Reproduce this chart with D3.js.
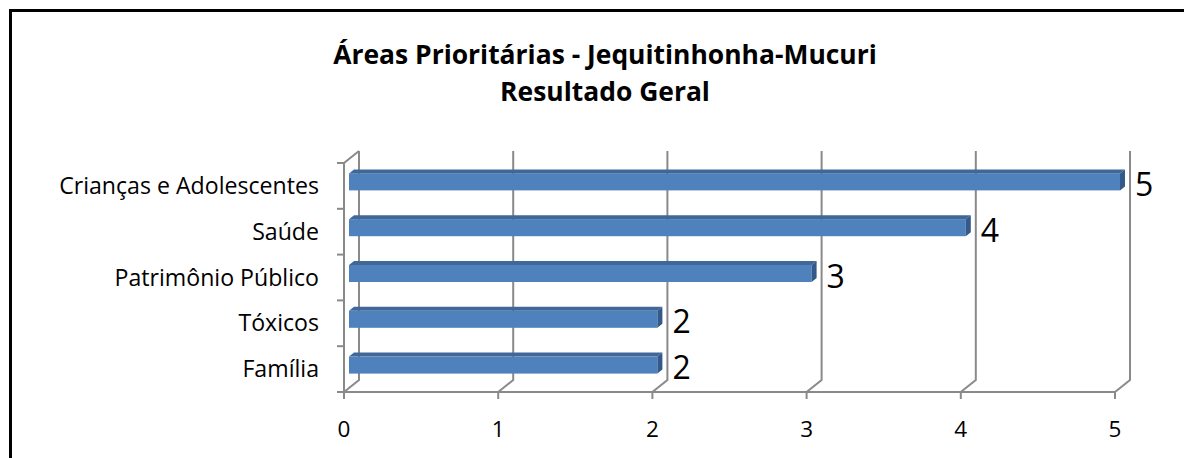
<!DOCTYPE html>
<html>
<head>
<meta charset="utf-8">
<script src="https://cdn.jsdelivr.net/npm/d3@7"></script>
<style>
  body { margin: 0; background: #fff; }
  text { font-family: "Open Sans", Lato, sans-serif; fill: #000; }
</style>
</head>
<body>
<svg class="chart"></svg>
<script>
const WIDTH = 1184;
const HEIGHT = 458;

const TITLE_LINES = ["Áreas Prioritárias - Jequitinhonha-Mucuri", "Resultado Geral"];
const CATEGORIES = ["Crianças e Adolescentes", "Saúde", "Patrimônio Público", "Tóxicos", "Família"];
const VALUES = [5, 4, 3, 2, 2];
const TICKS = [0, 1, 2, 3, 4, 5];

// 3d depth of the plot box (back wall offset)
const DX = 15, DY = -12;
const BAR_H = 17;

let svg = d3.select(".chart").attr("width", WIDTH).attr("height", HEIGHT);

svg.append("rect")
   .attr("x", 10.5).attr("y", 10.5)
   .attr("width", WIDTH + 100).attr("height", HEIGHT + 100)
   .attr("fill", "none").attr("stroke", "#000").attr("stroke-width", 3);

// scale the font so the text takes the width of the original (Calibri) text
const fitSize = (sel, size, target) => {
  let len = sel.node().getComputedTextLength();
  return size * target / len;
};

let title = svg.append("g")
   .attr("text-anchor", "middle")
   .attr("font-weight", "bold")
   .attr("font-size", 26);
let titleLines = title.selectAll("text").data(TITLE_LINES).join("text")
   .attr("x", 605)
   .attr("y", (d, i) => 64 + i * 37)
   .text(d => d);
title.attr("font-size", fitSize(titleLines.filter((d, i) => i == 0), 26, 544));

let x = d3.scaleLinear().domain([0, 5]).range([344, 1115]);
let y = d3.scaleBand().domain(CATEGORIES).range([163, 392]);
const plotTop = y.range()[0], plotBottom = y.range()[1];

const GRID = "#8a8a8a";
let grid = svg.append("g").attr("fill", "none").attr("stroke", GRID).attr("stroke-width", 2);

// left wall
grid.append("path").attr("d", `M${x(0)},${plotBottom}V${plotTop}l${DX},${DY}`);
// back wall verticals + floor diagonals
TICKS.forEach(t => {
  grid.append("path").attr("d", `M${x(t)},${plotBottom}l${DX},${DY}V${plotTop + DY}`);
});
// floor front edge
grid.append("path").attr("d", `M${x(0)},${plotBottom}H${x(5)}`);
// tick marks below
TICKS.forEach(t => {
  grid.append("path").attr("d", `M${x(t)},${plotBottom}v7`);
});
// category ticks on the left
y.domain().forEach(c => {
  grid.append("path").attr("d", `M${x(0) - 7},${y(c)}h7`);
});
grid.append("path").attr("d", `M${x(0) - 7},${plotBottom}h7`);

// bars
const fx = DX / 3, fy = DY / 3;
let bars = svg.append("g").selectAll("g").data(CATEGORIES).join("g");

bars.each(function(c, i) {
  let g = d3.select(this);
  let x0 = x(0) + fx, x1 = x(VALUES[i]) + fx;
  let y0 = y(c) + y.bandwidth() / 2 - BAR_H / 2 + fy;
  // front face
  g.append("rect")
   .attr("x", x0).attr("y", y0)
   .attr("width", x1 - x0).attr("height", BAR_H)
   .attr("fill", "#4f81bd");
  // top face
  g.append("path")
   .attr("d", `M${x0},${y0}l${fx},${fy}H${x1 + fx}l${-fx},${-fy}Z`)
   .attr("fill", "#3f6899");
  // end face
  g.append("path")
   .attr("d", `M${x1},${y0}l${fx},${fy}v${BAR_H}l${-fx},${-fy}Z`)
   .attr("fill", "#335a8a");
});

// value labels
svg.append("g").selectAll("text").data(CATEGORIES).join("text")
   .attr("x", (c, i) => x(VALUES[i]) + 2 * fx + 10)
   .attr("y", c => y(c) + y.bandwidth() / 2 + 10)
   .attr("font-size", 32)
   .text((c, i) => VALUES[i]);

// category labels
let catGroup = svg.append("g").attr("font-size", 20);
let catLabels = catGroup.selectAll("text").data(CATEGORIES).join("text")
   .attr("x", 319)
   .attr("y", c => y(c) + y.bandwidth() / 2 + 8)
   .attr("text-anchor", "end")
   .text(c => c);
catGroup.attr("font-size", fitSize(catLabels.filter((d, i) => i == 0), 20, 260));

// x tick labels
svg.append("g").selectAll("text").data(TICKS).join("text")
   .attr("x", t => x(t))
   .attr("y", 437)
   .attr("text-anchor", "middle")
   .attr("font-size", 22.5)
   .text(t => t);
</script>
</body>
</html>
